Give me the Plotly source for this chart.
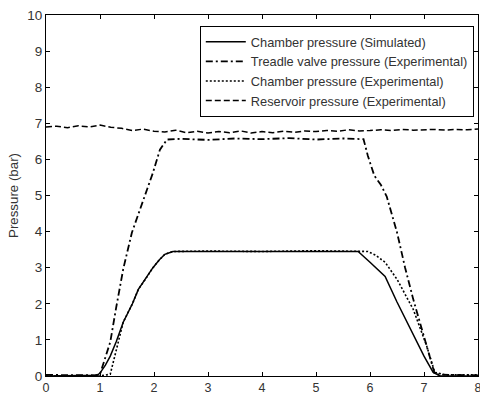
import plotly.graph_objects as go

# Chamber pressure (Simulated)
sim_t = [0, 0.5, 0.95, 1.0, 1.1, 1.19, 1.3, 1.43, 1.6, 1.71, 1.85, 1.98, 2.1, 2.2, 2.35, 3.0, 4.0, 5.0, 5.78, 6.0, 6.28, 6.5, 6.75, 7.0, 7.17, 7.3, 8.0]
sim_p = [0.0, 0.0, 0.02, 0.08, 0.3, 0.55, 0.95, 1.49, 2.0, 2.4, 2.7, 3.0, 3.22, 3.37, 3.45, 3.45, 3.45, 3.46, 3.45, 3.15, 2.76, 2.05, 1.3, 0.55, 0.1, 0.0, 0.0]

# Treadle valve pressure (Experimental)
tv_t = [0, 0.3, 0.6, 0.9, 1.0, 1.08, 1.19, 1.3, 1.43, 1.59, 1.8, 1.98, 2.11, 2.24, 2.5, 3.0, 3.5, 4.0, 4.5, 5.0, 5.5, 5.88, 5.96, 6.08, 6.2, 6.31, 6.5, 6.65, 6.8, 6.95, 7.06, 7.2, 7.5, 8.0]
tv_p = [0.03, 0.02, 0.03, 0.02, 0.05, 0.45, 0.94, 1.9, 2.96, 3.97, 4.89, 5.63, 6.27, 6.55, 6.57, 6.54, 6.58, 6.56, 6.59, 6.55, 6.58, 6.56, 6.1, 5.55, 5.3, 4.97, 3.98, 3.0, 2.13, 1.35, 0.83, 0.05, 0.03, 0.02]

# Chamber pressure (Experimental)
ce_t = [0, 0.5, 1.0, 1.19, 1.3, 1.43, 1.6, 1.71, 1.85, 1.98, 2.1, 2.2, 2.35, 3.0, 4.0, 5.0, 5.96, 6.1, 6.28, 6.5, 6.8, 7.05, 7.2, 7.4, 8.0]
ce_p = [0.0, 0.0, 0.0, 0.05, 0.7, 1.49, 2.0, 2.4, 2.7, 3.0, 3.22, 3.37, 3.45, 3.46, 3.45, 3.47, 3.45, 3.35, 3.15, 2.68, 1.85, 0.83, 0.1, 0.03, 0.03]

# Reservoir pressure (Experimental)
rs_t = [0, 0.2, 0.4, 0.6, 0.8, 1.0, 1.2, 1.4, 1.6, 1.8, 2.0, 2.2, 2.4, 2.6, 2.8, 3.0, 3.2, 3.4, 3.6, 3.8, 4.0,
        4.2, 4.4, 4.6, 4.8, 5.0, 5.2, 5.4, 5.6, 5.8, 6.0, 6.2, 6.4, 6.6, 6.8, 7.0, 7.2, 7.4, 7.6, 7.8, 8.0]
rs_p = [6.9, 6.92, 6.88, 6.93, 6.9, 6.95, 6.89, 6.86, 6.8, 6.84, 6.78, 6.76, 6.81, 6.74, 6.78, 6.73, 6.77, 6.74, 6.79, 6.73, 6.77,
        6.74, 6.78, 6.75, 6.79, 6.77, 6.8, 6.78, 6.82, 6.79, 6.8, 6.82, 6.8, 6.83, 6.81, 6.82, 6.83, 6.81, 6.83, 6.82, 6.84]

fig = go.Figure()
fig.add_trace(go.Scatter(x=sim_t, y=sim_p, mode="lines", name="Chamber pressure (Simulated)",
                         line=dict(color="black", width=1.5, dash="solid")))
fig.add_trace(go.Scatter(x=tv_t, y=tv_p, mode="lines", name="Treadle valve pressure (Experimental)",
                         line=dict(color="black", width=1.8, dash="7px,3px,2px,3px")))
fig.add_trace(go.Scatter(x=ce_t, y=ce_p, mode="lines", name="Chamber pressure (Experimental)",
                         line=dict(color="black", width=1.6, dash="2px,2px")))
fig.add_trace(go.Scatter(x=rs_t, y=rs_p, mode="lines", name="Reservoir pressure (Experimental)",
                         line=dict(color="black", width=1.5, dash="6px,3px")))

axis_common = dict(showgrid=False, zeroline=False, showline=True, linecolor="black", linewidth=1,
                   mirror="ticks", ticks="inside", ticklen=4, tickcolor="black", automargin=False)

fig.update_layout(
    width=480, height=394,
    margin=dict(l=46, r=2, t=15, b=18),
    paper_bgcolor="white", plot_bgcolor="white",
    font=dict(family="Liberation Sans, Arial", size=12, color="black"),
    xaxis=dict(range=[0, 8], dtick=1, ticklabelstandoff=0, ticklabeloverflow="allow",
               tickfont=dict(family="Liberation Sans, Arial", size=12.5, color="#333"), **axis_common),
    yaxis=dict(range=[0, 10], dtick=1, title=dict(text="Pressure (bar)", standoff=5,
               font=dict(size=13.3, color="#333")),
               tickfont=dict(family="Liberation Sans, Arial", size=13.5, color="#333"), **axis_common),
    legend=dict(x=0.356, y=0.97, xanchor="left", yanchor="top", bgcolor="white",
                bordercolor="black", borderwidth=1, font=dict(size=12.8, color="#333"),
                tracegroupgap=0, itemwidth=40),
    showlegend=True,
)

fig.write_html("out.html")
